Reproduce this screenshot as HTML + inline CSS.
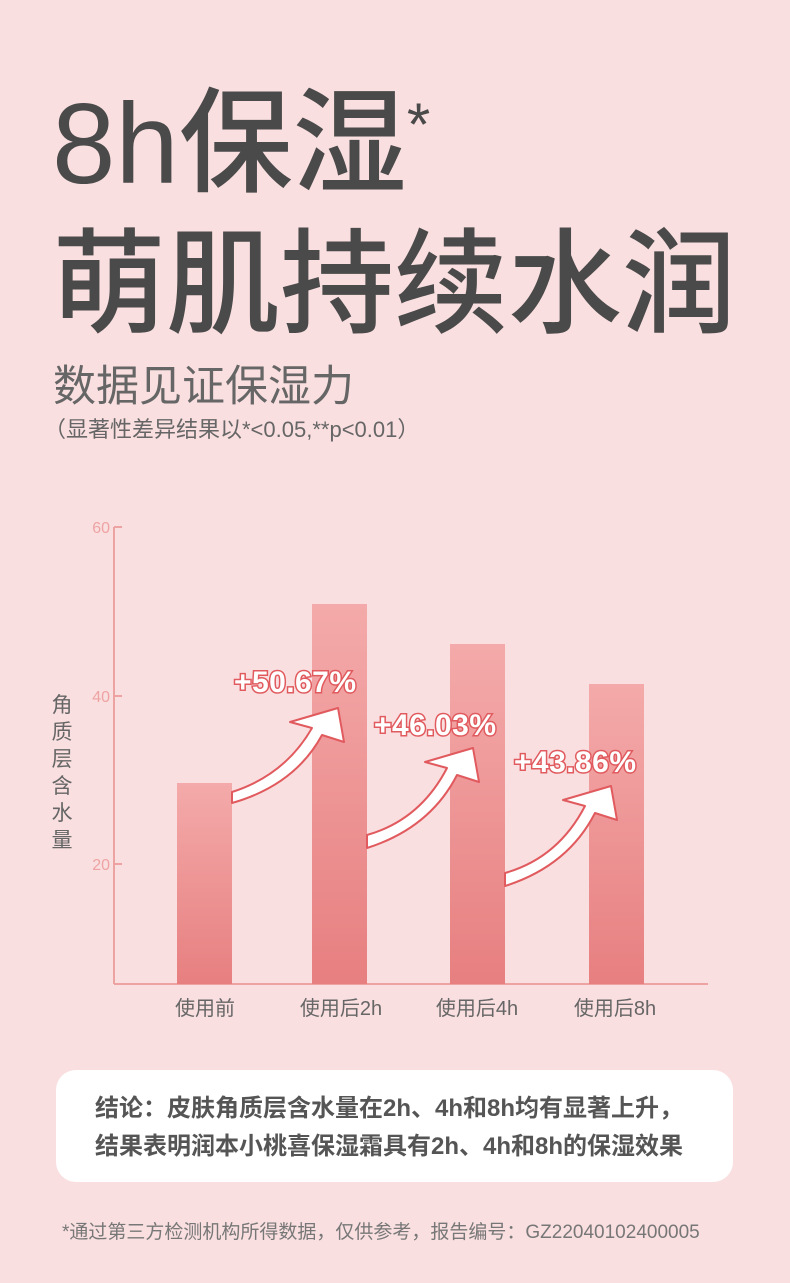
<!DOCTYPE html>
<html><head><meta charset="utf-8"><style>
body{margin:0;width:790px;height:1283px;background:#fadfe0;position:relative;overflow:hidden;font-family:"Liberation Sans","Noto Sans CJK SC",sans-serif;}
.t{position:absolute;white-space:nowrap;color:#4a4a4a;}
</style></head><body>
<div class="t" style="left:52px;top:70px;font-size:114px;line-height:150px;font-weight:500;">8h保湿<span style="font-size:60px;vertical-align:top;position:relative;top:-20px">*</span></div>
<div class="t" style="left:52px;top:211px;font-size:114px;line-height:150px;font-weight:500;">萌肌持续水润</div>
<div class="t" style="left:53px;top:360px;font-size:43px;line-height:55px;color:#666;">数据见证保湿力</div>
<div class="t" style="left:44px;top:416px;font-size:22px;line-height:28px;color:#666;">（显著性差异结果以*&lt;0.05,**p&lt;0.01）</div>
<svg style="position:absolute;left:0;top:0" width="790" height="1283">
<defs><linearGradient id="g" x1="0" y1="0" x2="0" y2="1"><stop offset="0" stop-color="#f4aaaa"/><stop offset="1" stop-color="#e77f80"/></linearGradient></defs>
<g font-family="Liberation Sans" font-size="16" fill="#eea3a3" text-anchor="end">
<text x="110" y="533">60</text><text x="110" y="702">40</text><text x="110" y="870">20</text></g>
<g stroke="#eea3a3" stroke-width="2"><line x1="114" y1="527" x2="114" y2="984"/><line x1="114" y1="984" x2="708" y2="984"/>
<line x1="114" y1="527" x2="122" y2="527"/><line x1="114" y1="696" x2="122" y2="696"/><line x1="114" y1="864" x2="122" y2="864"/></g>
<rect x="177" y="783" width="55" height="201" fill="url(#g)"/>
<rect x="312" y="604" width="55" height="380" fill="url(#g)"/>
<rect x="450" y="644" width="55" height="340" fill="url(#g)"/>
<rect x="589" y="684" width="55" height="300" fill="url(#g)"/>
<g fill="#fff" stroke="#e05a5e" stroke-width="2" stroke-linejoin="round">
<path d="M232 792 Q285 775 312 728 L290 722 L338 708 L344 742 L322 735 Q295 785 232 803 Z"/>
<path d="M367 835 Q420 820 447 768 L425 762 L473 748 L479 782 L457 775 Q430 828 367 848 Z"/>
<path d="M505 873 Q558 858 585 806 L563 800 L611 786 L617 820 L595 813 Q568 866 505 886 Z"/>
</g>
<g font-family="Liberation Sans" font-weight="bold" font-size="30" fill="#fff" stroke="#e05a5e" stroke-width="3" paint-order="stroke">
<text x="234" y="692" textLength="122">+50.67%</text><text x="374" y="735" textLength="122">+46.03%</text><text x="514" y="772" textLength="122">+43.86%</text></g>
<g font-family="Liberation Sans,Noto Sans CJK SC,sans-serif" font-size="20" fill="#666" text-anchor="middle">
<text x="205" y="1015">使用前</text><text x="341" y="1015">使用后2h</text><text x="477" y="1015">使用后4h</text><text x="615" y="1015">使用后8h</text></g>
<g font-family="Noto Sans CJK SC,sans-serif" font-size="21" fill="#666" text-anchor="middle">
<text x="62" y="712">角</text><text x="62" y="739">质</text><text x="62" y="766">层</text><text x="62" y="793">含</text><text x="62" y="820">水</text><text x="62" y="847">量</text></g>
</svg>
<div style="position:absolute;left:56px;top:1070px;width:677px;height:112px;background:#fff;border-radius:20px;"></div>
<div class="t" style="left:95px;top:1090px;font-size:24px;line-height:38px;font-weight:bold;color:#555;">结论：皮肤角质层含水量在2h、4h和8h均有显著上升，<br>结果表明润本小桃喜保湿霜具有2h、4h和8h的保湿效果</div>
<div class="t" style="left:62px;top:1220px;font-size:19px;line-height:26px;color:#777;">*通过第三方检测机构所得数据，仅供参考，报告编号：GZ22040102400005</div>
</body></html>
